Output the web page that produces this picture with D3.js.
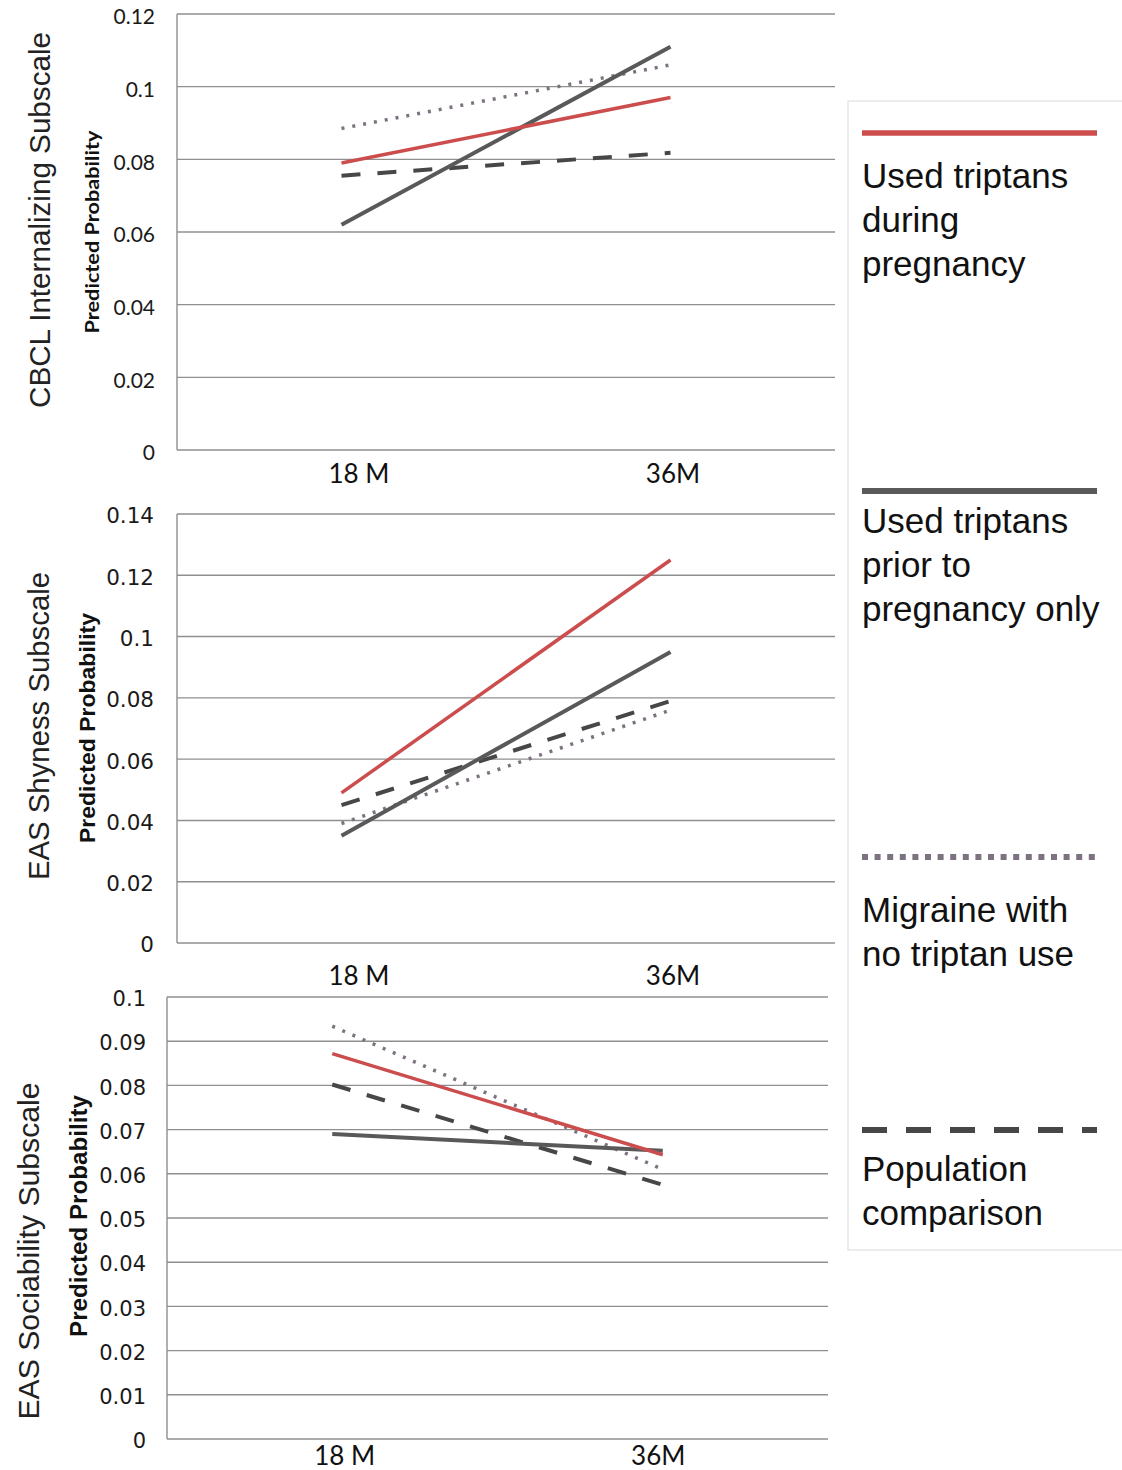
<!DOCTYPE html>
<html>
<head>
<meta charset="utf-8">
<script src="https://cdn.jsdelivr.net/npm/d3@7"></script>
<style>
  body { margin: 0; background: #fff; }
  svg { display: block; }
</style>
</head>
<body>
<script>
// chart data
var timepoints = ["18 M", "36M"];
var groups = ["during", "prior", "migraine", "population"];

// predicted probability per group, [18 M, 36M]
var cbclValues = [[0.079, 0.097], [0.062, 0.111], [0.0885, 0.106], [0.0755, 0.0818]];
var shynessValues = [[0.049, 0.125], [0.035, 0.095], [0.039, 0.076], [0.045, 0.079]];
var sociabilityValues = [[0.0872, 0.0643], [0.069, 0.0652], [0.0934, 0.061], [0.0802, 0.0575]];

var cbclTicks = [0, 0.02, 0.04, 0.06, 0.08, 0.1, 0.12];
var shynessTicks = [0, 0.02, 0.04, 0.06, 0.08, 0.1, 0.12, 0.14];
var sociabilityTicks = [0, 0.01, 0.02, 0.03, 0.04, 0.05, 0.06, 0.07, 0.08, 0.09, 0.1];

var legendLabels = [
  ["Used triptans", "during", "pregnancy"],
  ["Used triptans", "prior to", "pregnancy only"],
  ["Migraine with", "no triptan use"],
  ["Population", "comparison"]
];

// series styling
var seriesStyle = {
  during:     { color: "#cc4d4d", width: 3.5, dash: null },
  prior:      { color: "#595959", width: 4, dash: null },
  migraine:   { color: "#7d7380", width: 3.5, dash: "3,8" },
  population: { color: "#474747", width: 4, dash: "19,17" }
};
var legendStyle = {
  during:     { width: 5.5, dash: null },
  prior:      { width: 6, dash: null },
  migraine:   { width: 6, dash: "6,6.6" },
  population: { width: 6, dash: "25,19" }
};

var width = 1122,
    height = 1470;

var svg = d3.select("body").append("svg")
    .attr("width", width)
    .attr("height", height);

// panel layout
var panels = [
  { title: "CBCL Internalizing Subscale", values: cbclValues, ticks: cbclTicks,
    left: 177, right: 835, top: 14, bottom: 450,
    tickFont: "Lato, sans-serif", tickSize: 21, tickPad: 22, tickShift: 3,
    titleX: 50, titleY: 220, titleLen: 376,
    ppX: 99, ppY: 232, ppLen: 203, ppFont: "Lato, sans-serif",
    xLabelY: 483, labelDx: [17, 2] },
  { title: "EAS Shyness Subscale", values: shynessValues, ticks: shynessTicks,
    left: 177, right: 835, top: 514, bottom: 943,
    tickFont: "'DejaVu Sans', sans-serif", tickSize: 21.5, tickPad: 23, tickShift: 2,
    titleX: 49, titleY: 726, titleLen: 308,
    ppX: 95, ppY: 728, ppLen: 230, ppFont: "'Liberation Sans', Arial, sans-serif",
    xLabelY: 985, labelDx: [17, 2] },
  { title: "EAS Sociability Subscale", values: sociabilityValues, ticks: sociabilityTicks,
    left: 167, right: 828, top: 997, bottom: 1439,
    tickFont: "'DejaVu Sans', sans-serif", tickSize: 21, tickPad: 21, tickShift: 2,
    titleX: 39, titleY: 1251, titleLen: 337,
    ppX: 87, ppY: 1216, ppLen: 242, ppFont: "'Liberation Sans', Arial, sans-serif",
    xLabelY: 1465, labelDx: [12, -5] }
];

var gridColor = "#8f8f8f";

panels.forEach(function(p) {
  var x = d3.scalePoint().domain(timepoints).range([p.left, p.right]).padding(0.5);
  var y = d3.scaleLinear().domain([0, d3.max(p.ticks)]).range([p.bottom, p.top]);

  var g = svg.append("g");

  // gridlines
  g.selectAll(".grid").data(p.ticks).enter().append("line")
      .attr("class", "grid")
      .attr("x1", p.left).attr("x2", p.right)
      .attr("y1", function(d) { return y(d); })
      .attr("y2", function(d) { return y(d); })
      .attr("stroke", gridColor)
      .attr("stroke-width", 1.4);

  // left axis line
  g.append("line")
      .attr("x1", p.left).attr("x2", p.left)
      .attr("y1", p.top).attr("y2", p.bottom)
      .attr("stroke", gridColor)
      .attr("stroke-width", 1.4);

  // y tick labels
  var yAxis = g.append("g")
      .attr("transform", "translate(" + p.left + "," + p.tickShift + ")")
      .call(d3.axisLeft(y).tickValues(p.ticks).tickSize(0).tickPadding(p.tickPad)
        .tickFormat(function(d) { return String(+d.toFixed(2)); }));
  yAxis.select(".domain").remove();
  yAxis.selectAll("text")
      .attr("fill", "#1a1a1a")
      .style("font-family", p.tickFont)
      .style("font-size", p.tickSize + "px");

  // x labels
  var xAxis = g.append("g")
      .attr("transform", "translate(0," + p.xLabelY + ")")
      .call(d3.axisBottom(x).tickSize(0).tickPadding(0));
  xAxis.select(".domain").remove();
  xAxis.selectAll("text")
      .attr("dy", 0)
      .attr("y", 0)
      .attr("dx", function(d, i) { return p.labelDx[i]; })
      .attr("fill", "#111")
      .style("font-family", "Lato, sans-serif")
      .style("font-size", "26px");

  // series lines
  var line = d3.line()
      .x(function(d, i) { return x(timepoints[i]); })
      .y(function(d) { return y(d); });

  // draw in legend order reversed so red sits on top
  var order = [3, 2, 1, 0];
  order.forEach(function(k) {
    var s = seriesStyle[groups[k]];
    g.append("path")
        .datum(p.values[k])
        .attr("d", line)
        .attr("fill", "none")
        .attr("stroke", s.color)
        .attr("stroke-width", s.width)
        .attr("stroke-dasharray", s.dash)
        .attr("stroke-linecap", "butt");
  });

  // outer title
  g.append("text")
      .attr("transform", "translate(" + p.titleX + "," + p.titleY + ") rotate(-90)")
      .attr("text-anchor", "middle")
      .attr("textLength", p.titleLen)
      .attr("lengthAdjust", "spacingAndGlyphs")
      .attr("fill", "#222")
      .style("font-family", "'Liberation Sans', Arial, sans-serif")
      .style("font-size", "29px")
      .text(p.title);

  // axis title
  g.append("text")
      .attr("transform", "translate(" + p.ppX + "," + p.ppY + ") rotate(-90)")
      .attr("text-anchor", "middle")
      .attr("textLength", p.ppLen)
      .attr("lengthAdjust", "spacingAndGlyphs")
      .attr("fill", "#111")
      .style("font-family", p.ppFont)
      .style("font-weight", "bold")
      .style("font-size", (p.ppLen / 10.2) + "px")
      .text("Predicted Probability");
});

// legend
var legend = svg.append("g");
legend.append("rect")
    .attr("x", 848).attr("y", 101)
    .attr("width", 290).attr("height", 1149)
    .attr("fill", "none")
    .attr("stroke", "#e6e6e6")
    .attr("stroke-width", 1.5);

var legendLineY = [133, 491, 857, 1130];
var legendTextY = [188, 533, 922, 1181];

groups.forEach(function(key, i) {
  legend.append("line")
      .attr("x1", 862).attr("x2", 1097)
      .attr("y1", legendLineY[i]).attr("y2", legendLineY[i])
      .attr("stroke", seriesStyle[key].color)
      .attr("stroke-width", legendStyle[key].width)
      .attr("stroke-dasharray", legendStyle[key].dash);

  var t = legend.append("text")
      .attr("x", 862)
      .attr("y", legendTextY[i])
      .attr("fill", "#111")
      .style("font-family", "'Liberation Sans', Arial, sans-serif")
      .style("font-size", "35px");
  t.selectAll("tspan").data(legendLabels[i]).enter().append("tspan")
      .attr("x", 862)
      .attr("dy", function(d, j) { return j === 0 ? 0 : 44; })
      .text(function(d) { return d; });
});
</script>
</body>
</html>
